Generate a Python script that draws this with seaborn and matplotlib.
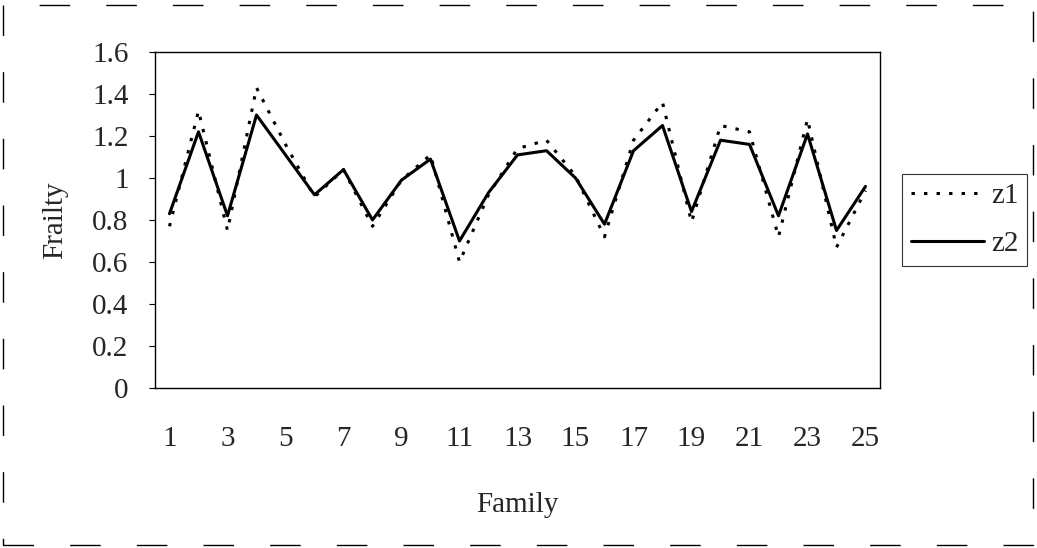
import numpy as np
import pandas as pd
import matplotlib
matplotlib.use("Agg")
import matplotlib.pyplot as plt
from matplotlib import font_manager
from matplotlib.patches import Rectangle
import seaborn as sns

# values
family = list(range(1, 26))
z1 = [0.77, 1.32, 0.75, 1.43, 1.16, 0.91, 1.04, 0.77, 0.99, 1.11, 0.60, 0.92, 1.14,
      1.18, 1.01, 0.72, 1.18, 1.36, 0.79, 1.25, 1.22, 0.72, 1.28, 0.67, 0.94]
z2 = [0.83, 1.22, 0.82, 1.30, 1.11, 0.92, 1.04, 0.80, 0.99, 1.09, 0.70, 0.93, 1.11,
      1.13, 1.00, 0.78, 1.13, 1.25, 0.84, 1.18, 1.16, 0.82, 1.21, 0.75, 0.96]
y_ticks = [0, 0.2, 0.4, 0.6, 0.8, 1, 1.2, 1.4, 1.6]
y_tick_labels = ["0", "0.2", "0.4", "0.6", "0.8", "1", "1.2", "1.4", "1.6"]
x_tick_labels = [str(f) for f in family if f % 2 == 1]

df = pd.DataFrame({"Family": family, "z1": z1, "z2": z2})

sns.set_style("white")

# pick a Times-like serif if one is installed
serif = "DejaVu Serif"
for name in ["Liberation Serif", "Times New Roman", "Nimbus Roman"]:
    try:
        font_manager.findfont(font_manager.FontProperties(family=name),
                              fallback_to_default=False)
        serif = name
        break
    except Exception:
        pass
plt.rcParams["font.family"] = [serif, "DejaVu Serif"]
fs = 21

W, H = 1037, 548
fig = plt.figure(figsize=(W / 100, H / 100), dpi=100)
ax = fig.add_axes([155 / W, 1 - 388 / H, (880 - 155) / W, (388 - 52) / H])

sns.lineplot(data=df, x="Family", y="z1", ax=ax, color="black", lw=2.2,
             linestyle=(0, (1.1, 3.0)), label="z1")
sns.lineplot(data=df, x="Family", y="z2", ax=ax, color="black", lw=2.2,
             linestyle="-", label="z2")

ax.set_xlim(0.5, 25.5)
ax.set_ylim(0, 1.6)
ax.set_yticks(y_ticks)
ax.set_yticklabels(y_tick_labels, fontsize=fs)
ax.set_xticks([f for f in family if f % 2 == 1])
ax.set_xticklabels(x_tick_labels, fontsize=fs)
ax.set_xticks(np.arange(0.5, 26, 1), minor=True)
ax.tick_params(axis="x", which="major", length=0, pad=27)
ax.tick_params(axis="x", which="minor", length=4, width=0.8, direction="out", color="black")
ax.tick_params(axis="y", length=4, width=0.8, direction="out", color="black", pad=15, left=True)

for s in ax.spines.values():
    s.set_color("black")
    s.set_linewidth(1.0)

ax.set_xlabel("Family", fontsize=fs, labelpad=29)
ax.set_ylabel("Frailty", fontsize=fs, labelpad=17)

leg = ax.legend(loc="center left", bbox_to_anchor=(902 / W, 1 - 220 / H),
                bbox_transform=fig.transFigure, fontsize=fs, frameon=True,
                fancybox=False, edgecolor="black", handlelength=2.5,
                handletextpad=0.25, labelspacing=0.75, borderpad=0.3,
                borderaxespad=0)
leg.get_frame().set_linewidth(0.8)

# dashed outer border like the scanned chart frame
fig.patches.append(Rectangle((3 / W, 3 / H), 1 - 7 / W, 1 - 8 / H,
                             transform=fig.transFigure, fill=False,
                             edgecolor="black", lw=1.0,
                             linestyle=(0, (22, 26))))

fig.savefig("out.png", dpi=100)
